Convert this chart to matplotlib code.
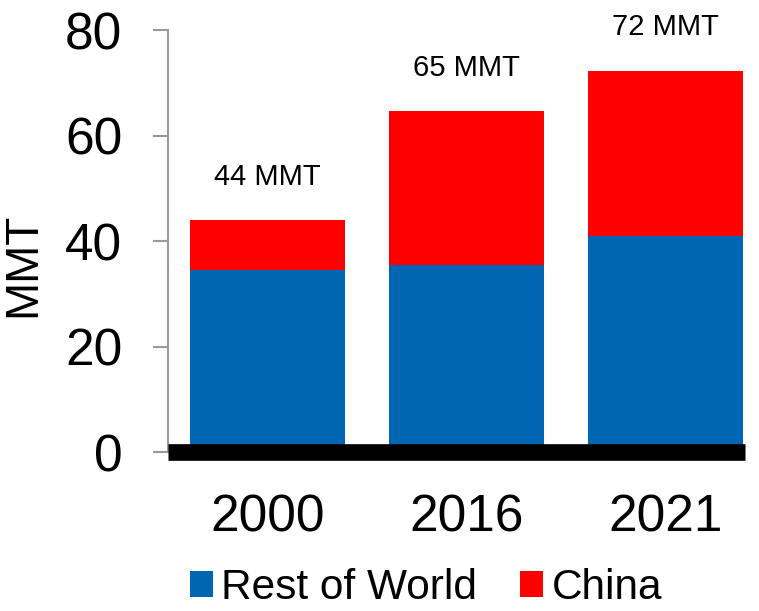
import numpy as np
import matplotlib
matplotlib.use("Agg")
import matplotlib.pyplot as plt

plt.rcParams['font.family'] = ['Liberation Sans', 'DejaVu Sans']

years = ["2000", "2016", "2021"]
rest_of_world = [34.5, 35.4, 40.9]
china = [9.4, 29.2, 31.4]

blue = "#0066b3"
red = "#ff0000"

fig = plt.figure(figsize=(7.59, 6.11), dpi=100)
ax = fig.add_axes([0.2213, 0.2602, 0.7603, 0.6907])

x = np.arange(len(years))
width = 0.78
ax.bar(x, rest_of_world, width, color=blue, label="Rest of World", zorder=2)
ax.bar(x, china, width, bottom=rest_of_world, color=red, label="China", zorder=2)

totals = np.array(rest_of_world) + np.array(china)
for xi, t in zip(x, totals):
    ax.text(xi, t + 5.6, f"{round(t)} MMT", ha="center", va="bottom",
            fontsize=21, clip_on=False)

ax.set_xlim(-0.5, 2.4)
ax.set_ylim(0, 80)
ax.set_yticks([0, 20, 40, 60, 80])
ax.set_xticks(x)
ax.set_xticklabels(years)

for s in ["top", "right"]:
    ax.spines[s].set_visible(False)
ax.spines["left"].set_color("#999999")
ax.spines["left"].set_linewidth(1.5)
ax.spines["bottom"].set_color("black")
ax.spines["bottom"].set_linewidth(12)
ax.spines["bottom"].set_capstyle("butt")
ax.spines["bottom"].set_zorder(3)

ax.tick_params(axis="y", length=11, width=1.5, color="#999999", pad=22,
               labelsize=37, direction="out")
ax.tick_params(axis="x", length=0, pad=30, labelsize=37)
ax.set_ylabel("MMT", fontsize=33)
ax.yaxis.set_label_coords(-0.213, 0.443)

ax.legend(loc="center", bbox_to_anchor=(0.447, -0.322), ncol=2, frameon=False,
          fontsize=30.5, handlelength=0.55, handleheight=0.55, handletextpad=0.2,
          columnspacing=1.0, borderaxespad=0, borderpad=0)

fig.savefig("out.png", dpi=100)
